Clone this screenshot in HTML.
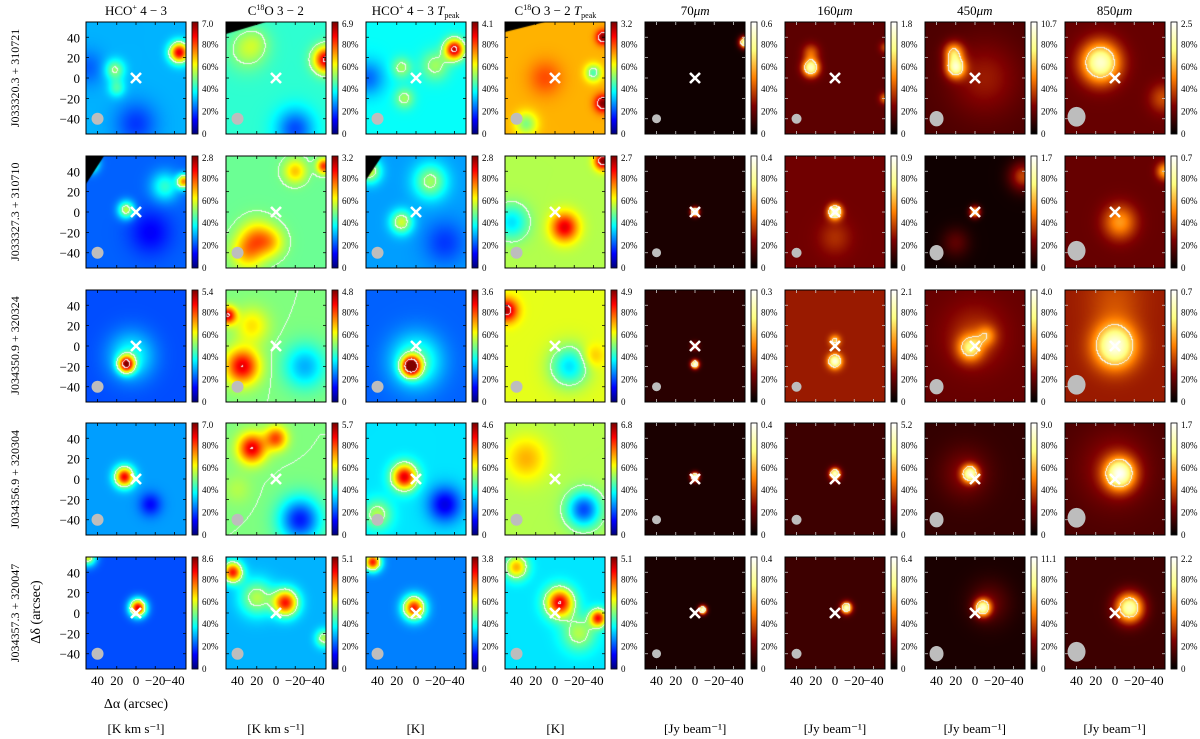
<!DOCTYPE html>
<html><head><meta charset="utf-8">
<style>
html,body{margin:0;padding:0;background:#fff;}
#wrap{position:relative;width:1200px;height:739px;overflow:hidden;font-family:"Liberation Serif",serif;}
#cv{position:absolute;left:0;top:0;}
#sv{position:absolute;left:0;top:0;}
</style></head>
<body>
<div id="wrap">
<canvas id="cv" width="1200" height="739"></canvas>
<svg id="sv" width="1200" height="739" xmlns="http://www.w3.org/2000/svg"></svg>
</div>
<script>
// ---- data ----
const rowNames = ["J033320.3 + 310721","J033327.3 + 310710","J034350.9 + 320324","J034356.9 + 320304","J034357.3 + 320047"];
const colKinds = ["jet","jet","jet","jet","hot","hot","hot","hot"];
const cbMax = [
 ["7.0","6.9","4.1","3.2","0.6","1.8","10.7","2.5"],
 ["2.8","3.2","2.8","2.7","0.4","0.9","1.7","0.7"],
 ["5.4","4.8","3.6","4.9","0.3","2.1","4.0","0.7"],
 ["7.0","5.7","4.6","6.8","0.4","5.2","9.0","1.7"],
 ["8.6","5.1","3.8","5.1","0.4","6.4","11.1","2.2"]];
const unitLabels = ["[K km s⁻¹]","[K km s⁻¹]","[K]","[K]","[Jy beam⁻¹]","[Jy beam⁻¹]","[Jy beam⁻¹]","[Jy beam⁻¹]"];
const axisTicks = [-40,-20,0,20,40];
const cbTicks = ["0","20%","40%","60%","80%"];
const beamRadius = [6,6,6,6,4.5,5,7,9];
// panels with blank (NaN) top-left corner: [row, col, widthPx, heightPx]
const nanCorners = [[0,1,40,12],[0,3,40,10],[1,0,18,28],[1,2,16,24]];
// base level per panel
const panelBase = [
 [0.3,0.42,0.38,0.7,0.03,0.18,0.15,0.2],
 [0.22,0.48,0.28,0.55,0.05,0.22,0.03,0.2],
 [0.2,0.5,0.22,0.6,0.08,0.3,0.2,0.3],
 [0.28,0.5,0.35,0.55,0.05,0.12,0.1,0.15],
 [0.2,0.3,0.25,0.35,0.05,0.12,0.05,0.12]];
// blobs: [dRA arcsec, dDec arcsec, amplitude fraction, sigma arcsec]
const panelBlobs = [
 [[[22,8,0.22,7],[20,-10,0.15,6],[-45,25,0.6,7],[0,-45,-0.12,15],[50,10,-0.08,12]],
  [[30,28,0.13,14],[20,35,0.05,10],[-52,18,0.5,9],[-20,-50,-0.22,14]],
  [[15,10,0.15,7],[12,-20,0.15,7],[-20,12,0.15,10],[-40,28,0.55,7],[50,0,-0.15,12]],
  [[-50,40,0.3,5],[-50,-25,0.3,6],[-40,5,-0.25,6],[30,-45,-0.2,8],[10,0,0.1,12]],
  [[-52,35,0.9,4]],
  [[25,10,0.7,6],[25,25,0.25,6],[-52,-20,0.3,4],[-52,30,0.2,4]],
  [[20,10,0.65,7],[22,25,0.45,7],[-10,0,0.15,25]],
  [[15,15,0.7,14],[-50,-20,0.2,10]]],
 [[[10,2,0.35,6],[-50,30,0.5,5],[-30,25,0.2,10],[48,48,0.4,6],[-15,-20,-0.1,15]],
  [[20,-25,0.2,12],[-50,45,0.35,5],[-20,40,0.2,8],[5,-30,0.15,10],[30,-40,0.2,12]],
  [[15,-10,0.3,8],[-15,30,0.25,12],[48,40,0.3,8],[-30,-30,-0.1,15]],
  [[-10,-15,0.35,10],[-50,50,0.45,6],[45,-10,-0.2,12]],
  [[0,0,0.95,3]],
  [[0,0,0.75,5],[0,-25,0.12,12]],
  [[0,0,0.6,4],[-50,35,0.35,10],[20,-30,0.15,10]],
  [[-5,-10,0.35,12],[-52,40,0.4,6]]],
 [[[10,-18,0.65,6],[5,-10,0.2,16]],
  [[35,-20,0.4,12],[50,30,0.4,6],[25,20,0.15,12],[-30,-20,-0.2,15]],
  [[5,-20,0.7,7],[0,-15,0.25,18]],
  [[50,35,0.35,8],[-15,-20,-0.25,14],[-40,-10,0.1,8]],
  [[0,-18,0.9,3],[0,0,0.3,3]],
  [[0,-15,0.65,5],[0,5,0.35,4]],
  [[5,-2,0.45,9],[-12,10,0.25,7],[0,10,0.15,22]],
  [[0,0,0.65,15],[0,45,0.1,20]]],
 [[[12,2,0.6,7],[-15,-25,-0.15,8]],
  [[25,30,0.4,10],[0,40,0.3,8],[-25,-40,-0.35,15],[40,-10,0.05,10]],
  [[12,2,0.55,9],[-30,-25,-0.25,12],[40,-35,0.2,10]],
  [[30,20,0.15,15],[-30,-30,-0.35,12]],
  [[0,2,0.95,3]],
  [[0,5,0.8,4]],
  [[5,5,0.7,6],[10,5,0.15,18]],
  [[-5,5,0.7,11],[0,10,0.15,25]]],
 [[[-2,5,0.7,6],[50,55,0.4,6]],
  [[-10,10,0.55,9],[45,40,0.55,7],[20,15,0.25,12],[-50,-25,0.25,6]],
  [[2,5,0.6,8],[45,50,0.6,6]],
  [[-5,10,0.55,10],[-45,-5,0.5,6],[40,45,0.35,8],[-25,-20,0.2,12]],
  [[-8,3,0.9,3]],
  [[-12,5,0.8,4]],
  [[-8,5,0.75,6],[-15,10,0.15,15]],
  [[-15,5,0.75,10]]]];
const jetLevels = [0.5,0.9];
const hotLevels = [0.6];

// ---- geometry ----
const PW=100, PH=112;
function colLeft(c){return 86+139.8*c;}
function rowTop(r){return 22+133.75*r;}
function xScale(ra){return (52-ra)/104*PW;}
function yScale(dec){return (55-dec)/110*PH;}
function invX(px){return 52-px/PW*104;}
function invY(py){return 55-py/PH*110;}

function jet(v){
  const f=(x)=>Math.max(0,Math.min(1,x));
  return [f(1.5-Math.abs(4*v-3)),f(1.5-Math.abs(4*v-2)),f(1.5-Math.abs(4*v-1))].map(x=>Math.round(x*255));
}
function hot(v){
  const f=(x)=>Math.max(0,Math.min(1,x));
  return [f(2*v),f(2*v-0.5),f(2*v-1)].map(x=>Math.round(x*255));
}

const cv=document.getElementById('cv');
const ctx=cv.getContext('2d');
const NS="http://www.w3.org/2000/svg";
const sv=document.getElementById('sv');
function mk(tag,attrs,parent){const e=document.createElementNS(NS,tag);for(const k in attrs)e.setAttribute(k,attrs[k]);(parent||sv).appendChild(e);return e;}

for(let r=0;r<5;r++){
  for(let c=0;c<8;c++){
    const L=Math.round(colLeft(c)), T=Math.round(rowTop(r));
    const cmap=colKinds[c]==="jet"?jet:hot;
    const levels=colKinds[c]==="jet"?jetLevels:hotLevels;
    const base=panelBase[r][c], blobs=panelBlobs[r][c];
    const vals=new Float32Array(PW*PH);
    for(let py=0;py<PH;py++)for(let px=0;px<PW;px++){
      const ra=invX(px+0.5), dec=invY(py+0.5);
      let v=base;
      for(const b of blobs){const dx=ra-b[0],dy=dec-b[1];v+=b[2]*Math.exp(-(dx*dx+dy*dy)/(2*b[3]*b[3]));}
      vals[py*PW+px]=Math.max(0,Math.min(1,v));
    }
    const img=ctx.createImageData(PW,PH);
    const lvl=(v)=>{let n=0;for(const l of levels)if(v>=l)n++;return n;};
    for(let py=0;py<PH;py++)for(let px=0;px<PW;px++){
      const i=py*PW+px, v=vals[i];
      let col=cmap(v);
      const a=lvl(v);
      if((px<PW-1&&lvl(vals[i+1])!==a)||(py<PH-1&&lvl(vals[i+PW])!==a)) col=[245,245,245];
      img.data[i*4]=col[0];img.data[i*4+1]=col[1];img.data[i*4+2]=col[2];img.data[i*4+3]=255;
    }
    ctx.putImageData(img,L,T);
    for(const n of nanCorners){
      if(n[0]===r&&n[1]===c){
        ctx.fillStyle='#000';ctx.beginPath();ctx.moveTo(L,T);ctx.lineTo(L+n[2],T);ctx.lineTo(L,T+n[3]);ctx.closePath();ctx.fill();
      }
    }
    // colorbar
    const cbx=L+106, cbw=6;
    for(let y=0;y<PH;y++){const col=cmap(1-y/(PH-1));ctx.fillStyle=`rgb(${col[0]},${col[1]},${col[2]})`;ctx.fillRect(cbx,T+y,cbw,1);}

    const g=mk('g',{});
    
    
    const br=beamRadius[c];
    const beam=mk('ellipse',{cx:L+xScale(40),cy:T+yScale(-40)-(c===7?2:0),rx:br,ry:c>=6?br*1.1:br,fill:'#bdbdbd'},g);
    
    
    const cx0=L+xScale(0), cy0=T+yScale(0), s=5;
    const cross=mk('path',{d:`M${cx0-s},${cy0-s}L${cx0+s},${cy0+s}M${cx0-s},${cy0+s}L${cx0+s},${cy0-s}`,stroke:'#fff','stroke-width':2.6,fill:'none'},g);
    
    
    const fr=mk('rect',{x:L,y:T,width:PW,height:PH,fill:'none',stroke:'#000','stroke-width':1},g);
    
    
    const tc=colKinds[c]==="jet"?'#000':'#ccc';
    let d='';
    for(const t of axisTicks){
      const x=L+xScale(t), y=T+yScale(t);
      d+=`M${x},${T+PH}v-3M${x},${T}v3M${L},${y}h3M${L+PW},${y}h-3`;
    }
    mk('path',{d:d,stroke:tc,'stroke-width':0.8,fill:'none'},g);
    const cbf=mk('rect',{x:cbx,y:T,width:cbw,height:PH,fill:'none',stroke:'#000','stroke-width':0.8},g);
    
    
    for(let k=0;k<5;k++){
      const y=T+PH-(k*0.2)*PH;
      const tl=mk('text',{x:cbx+10,y:y+3,'font-size':9,fill:'#000'},g);
      tl.textContent=cbTicks[k];
      
      
    }
    const mx=mk('text',{x:cbx+10,y:T+5,'font-size':9,fill:'#000'},g);
    mx.textContent=cbMax[r][c];
    
    
    if(c===0){
      for(const t of axisTicks){
        const yl=mk('text',{x:L-6,y:T+yScale(t)+5,'font-size':13,'text-anchor':'end'},g);
        yl.textContent=(t<0?'−':'')+Math.abs(t);
        
        
      }
    }
    if(r===4){
      for(const t of axisTicks){
        const xl=mk('text',{x:L+xScale(t),y:T+PH+16,'font-size':13,'text-anchor':'middle'},g);
        xl.textContent=(t<0?'−':'')+Math.abs(t);
        
        
      }
    }
  }
  const rl=mk('text',{x:0,y:0,'font-size':12,'text-anchor':'middle',transform:`translate(19,${rowTop(r)+PH/2}) rotate(-90)`});
  rl.textContent=rowNames[r];
  
  
}
const titles=[
 ['HCO','+',' 4 − 3',''],['C','18','O 3 − 2',''],['HCO','+',' 4 − 3 ','T'],['C','18','O 3 − 2 ','T'],
 ['70','','μm',''],['160','','μm',''],['450','','μm',''],['850','','μm','']];
for(let c=0;c<8;c++){
  const cx=colLeft(c)+PW/2;
  const t=mk('text',{x:cx,y:15,'font-size':13,'text-anchor':'middle'});
  
  
  const a=titles[c];
  const s1=mk('tspan',{},t);s1.textContent=a[0];
  if(a[1]){const s2=mk('tspan',{'font-size':8,dy:-5},t);s2.textContent=a[1];const s3=mk('tspan',{dy:5},t);s3.textContent=a[2];}
  else{const s3=mk('tspan',{'font-style':c>=4?'italic':'normal'},t);s3.textContent=a[2];}
  if(a[3]){const s4=mk('tspan',{'font-style':'italic'},t);s4.textContent='T';const s5=mk('tspan',{'font-size':8,dy:3},t);s5.textContent='peak';}
  const u=mk('text',{x:cx,y:733,'font-size':13,'text-anchor':'middle'});
  u.textContent=unitLabels[c];
  
  
}
const xa=mk('text',{x:136,y:708,'font-size':14,'text-anchor':'middle'});
xa.textContent='Δα (arcsec)';


const ya=mk('text',{x:0,y:0,'font-size':14,'text-anchor':'middle',transform:'translate(40,612) rotate(-90)'});
ya.textContent='Δδ (arcsec)';


</script>
</body></html>
